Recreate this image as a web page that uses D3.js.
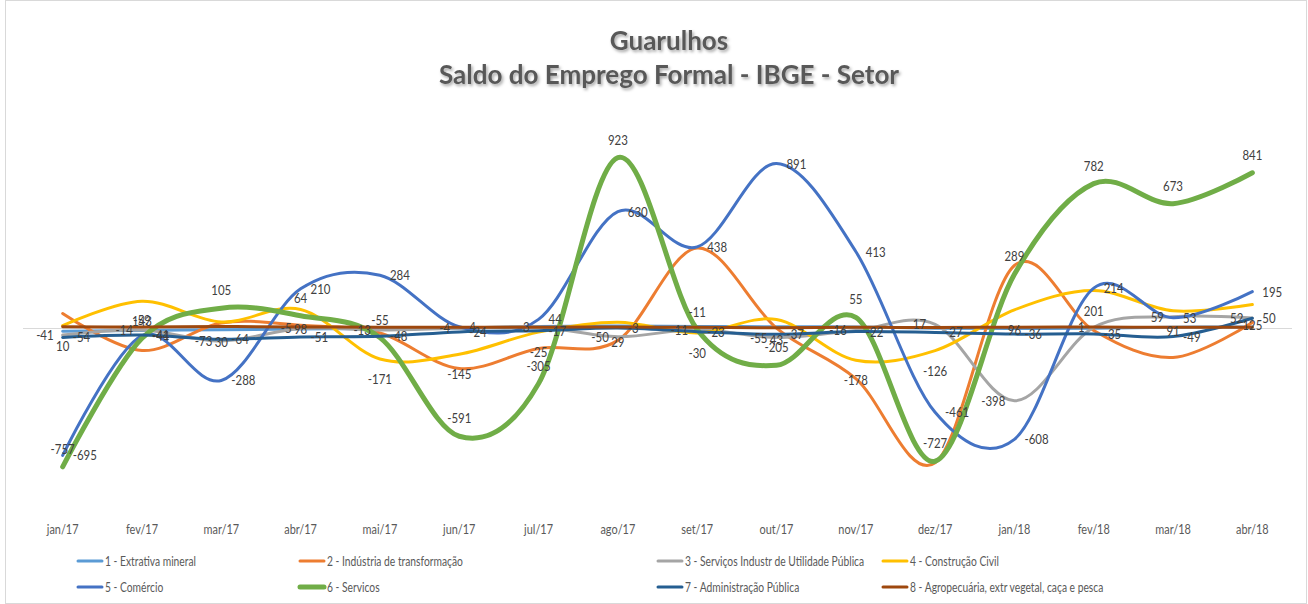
<!DOCTYPE html>
<html>
<head>
<meta charset="utf-8">
<script src="https://cdn.jsdelivr.net/npm/d3@7"></script>
<style>
  body { margin: 0; background: #fff; }
  svg { display: block; font-family: Lato, "Open Sans", sans-serif; }
</style>
</head>
<body>
<svg width="1308" height="604"></svg>
<script>
// months on the category axis
var months = ["jan/17", "fev/17", "mar/17", "abr/17", "mai/17", "jun/17", "jul/17", "ago/17",
              "set/17", "out/17", "nov/17", "dez/17", "jan/18", "fev/18", "mar/18", "abr/18"];

var names = ["1 - Extrativa mineral", "2 - Indústria de transformação", "3 - Serviços Industr de Utilidade Pública",
             "4 - Construção Civil", "5 - Comércio", "6 - Servicos", "7 - Administração Pública",
             "8 - Agropecuária, extr vegetal, caça e pesca"];

// saldo per setor
var extrativa   = [-20, -16, -12, -8, -6, -4, 5, 8, 6, 4, 3, -4, -6, -4, 2, 3];
var industria   = [76, -125, 25, 12, -30, -223, -114, -70, 432, -3, -278, -735, 337, -16, -163, 27];
var servIndustr = [-41, -14, -73, -5, -13, -4, 3, -50, -11, -55, -16, 17, -398, 1, 59, 52];
var construcao  = [10, 143, 30, 98, -171, -145, -25, 29, -30, 43, -178, -126, 96, 201, 91, 125];
var comercio    = [-695, -44, -288, 210, 284, 4, 44, 630, 438, 891, 413, -461, -608, 214, 53, 195];
var servicos    = [-757, -59, 105, 64, -55, -591, -305, 923, -11, -205, 55, -727, 289, 782, 673, 841];
var adminPub    = [-54, -41, -64, -51, -48, -24, -17, -3, -23, -37, -22, -27, -36, -35, -49, 50];
var agro        = [4, 3, 5, 3, 2, 1, 2, 3, 1, -1, 1, 0, 2, 3, 1, 2];

var values = [extrativa, industria, servIndustr, construcao, comercio, servicos, adminPub, agro];

var colors = ["#5b9bd5", "#ed7d31", "#a5a5a5", "#ffc000", "#4472c4", "#70ad47", "#255e91", "#9e480e"];
var widths = [3, 3, 3, 3, 3, 5, 3, 3];
// where each series puts its data labels (null = no labels)
var labelPos = [null, null, "left", "below", "right", "above", "right", null];

var svg = d3.select("svg"),
    width = +svg.attr("width"),
    height = +svg.attr("height");

// narrow the text a bit, the original font is a condensed one
function squeeze(sel, k) {
  sel.each(function() {
    var w = this.getComputedTextLength();
    d3.select(this).attr("textLength", w * k).attr("lengthAdjust", "spacingAndGlyphs");
  });
}

var defs = svg.append("defs");
defs.append("filter").attr("id", "shadow")
    .attr("x", "-10%").attr("y", "-30%").attr("width", "120%").attr("height", "160%")
  .append("feDropShadow")
    .attr("dx", 1.5).attr("dy", 2).attr("stdDeviation", 1.5)
    .attr("flood-color", "#000").attr("flood-opacity", 0.35);

// chart border
svg.append("rect")
    .attr("x", 5.5).attr("y", 0.5).attr("width", 1301).attr("height", 603)
    .attr("fill", "none").attr("stroke", "#d9d9d9");

// title
var title = svg.append("g").attr("filter", "url(#shadow)")
    .attr("fill", "#595959").attr("font-weight", "bold").attr("font-size", 26)
    .attr("text-anchor", "middle");
title.append("text").attr("x", 669).attr("y", 50).text("Guarulhos");
title.append("text").attr("x", 669).attr("y", 84).text("Saldo do Emprego Formal - IBGE - Setor");

var x = d3.scaleBand().domain(months).range([23, 1292]);
var y = d3.scaleLinear().domain([-1000, 1000]).range([511.5, 143.5]);

function cx(i) { return x(months[i]) + x.bandwidth() / 2; }

// zero line
svg.append("line")
    .attr("x1", x.range()[0]).attr("x2", x.range()[1])
    .attr("y1", Math.round(y(0)) + 0.5).attr("y2", Math.round(y(0)) + 0.5)
    .attr("stroke", "#d9d9d9").attr("stroke-width", 1);

// category labels
var xAxis = svg.append("g")
    .attr("transform", "translate(0,525)")
    .call(d3.axisBottom(x).tickSize(0).tickPadding(0));
xAxis.select(".domain").remove();
xAxis.selectAll("text").attr("font-size", 13).attr("fill", "#595959")
    .attr("font-family", "Lato, 'Open Sans', sans-serif")
    .call(squeeze, 0.84);

var line = d3.line()
    .x(function(d, i) { return cx(i); })
    .y(function(d) { return y(d); })
    .curve(d3.curveCardinal.tension(0));

var lines = svg.append("g").attr("fill", "none")
    .attr("stroke-linecap", "round").attr("stroke-linejoin", "round");

lines.selectAll("path")
  .data(values)
  .enter().append("path")
    .attr("d", line)
    .attr("stroke", function(d, i) { return colors[i]; })
    .attr("stroke-width", function(d, i) { return widths[i]; });

// data labels
var labels = svg.append("g").attr("font-size", 13).attr("fill", "#404040");

values.forEach(function(vals, s) {
  var pos = labelPos[s];
  if (!pos) return;
  labels.selectAll(".lab" + s)
    .data(vals)
    .enter().append("text")
      .attr("class", "lab" + s)
      .attr("x", function(d, i) {
        if (pos == "right") return cx(i) + 10;
        if (pos == "left") return cx(i) - 9;
        return cx(i);
      })
      .attr("y", function(d) {
        if (pos == "above") return y(d) - 13;
        if (pos == "below") return y(d) + 25;
        return y(d) + 5;
      })
      .attr("text-anchor", pos == "right" ? "start" : pos == "left" ? "end" : "middle")
      .text(function(d) { return d; })
      .call(squeeze, 0.88);
});

// legend
var legendX = [78, 300, 658, 883],
    legendY = [561, 587];

var legend = svg.append("g").selectAll("g")
  .data(names)
  .enter().append("g")
    .attr("transform", function(d, i) {
      return "translate(" + legendX[i % 4] + "," + legendY[Math.floor(i / 4)] + ")";
    });

legend.append("line")
    .attr("x1", 0).attr("x2", 24)
    .attr("stroke", function(d, i) { return colors[i]; })
    .attr("stroke-width", function(d, i) { return widths[i]; })
    .attr("stroke-linecap", "round");

legend.append("text")
    .attr("x", 27).attr("dy", "0.35em")
    .attr("font-size", 13).attr("fill", "#595959")
    .text(function(d) { return d; })
    .call(squeeze, 0.79);
</script>
</body>
</html>
